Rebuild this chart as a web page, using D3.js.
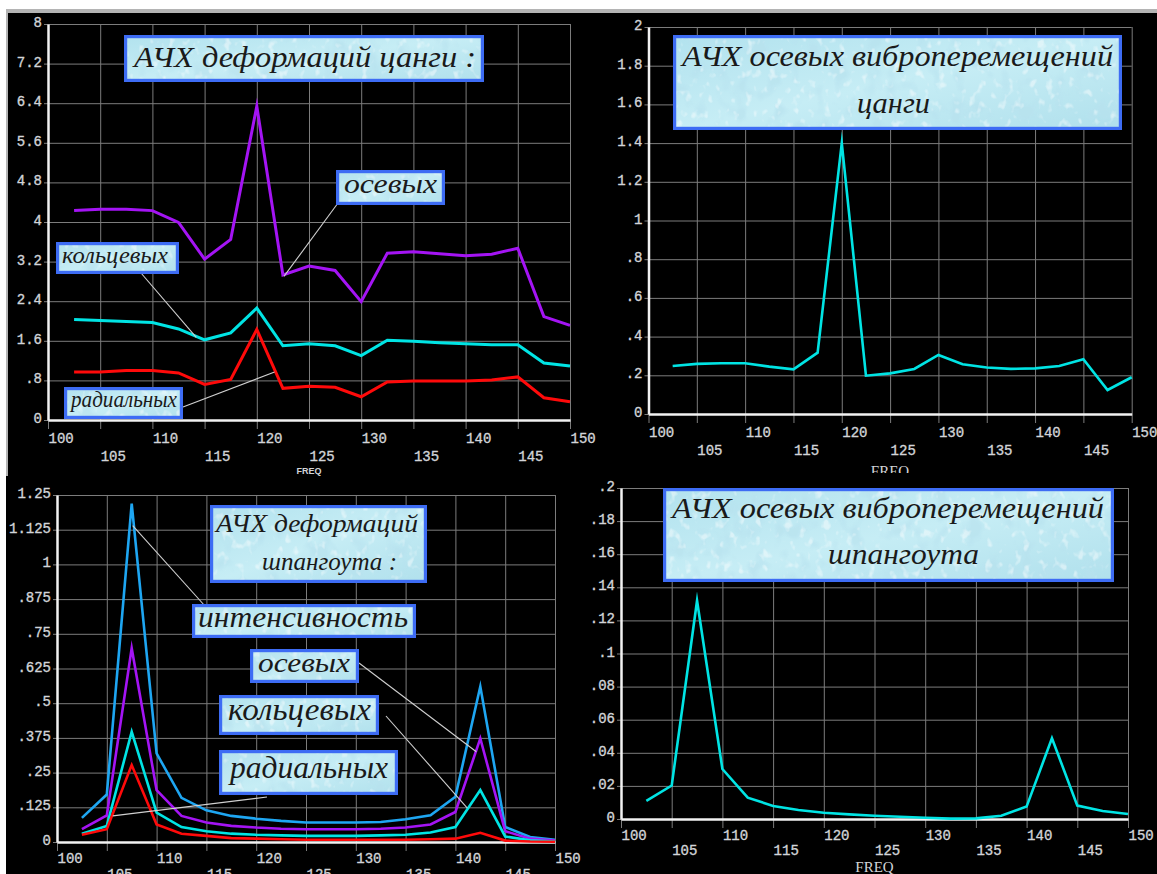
<!DOCTYPE html>
<html>
<head>
<meta charset="utf-8">
<script src="https://cdn.jsdelivr.net/npm/d3@7"></script>
<style>
html,body{margin:0;padding:0;background:#000;overflow:hidden}
svg{display:block}
.tk{font-family:"Liberation Mono",monospace;font-size:14px;stroke-width:0.35px}
</style>
</head>
<body>
<svg id="c" width="1157" height="874"></svg>
<script>
// ---------------- DATA ----------------
const freq = [102.5,105,107.5,110,112.5,115,117.5,120,122.5,125,127.5,130,132.5,135,137.5,140,142.5,145,147.5,150];
const xTicks = [100,105,110,115,120,125,130,135,140,145,150];

// Top-left: strain FRF of collet (цанга)
const tsAxial  = [4.23,4.26,4.26,4.23,3.99,3.25,3.65,6.34,2.93,3.11,3.02,2.39,3.37,3.40,3.36,3.32,3.35,3.47,2.09,1.91];
const tsHoop   = [2.03,2.01,1.99,1.97,1.84,1.62,1.76,2.26,1.50,1.54,1.50,1.30,1.61,1.59,1.56,1.54,1.52,1.52,1.15,1.09];
const tsRadial = [0.97,0.97,1.00,1.00,0.95,0.72,0.82,1.83,0.64,0.68,0.66,0.47,0.77,0.79,0.79,0.79,0.81,0.87,0.45,0.37];
const yTicksTL = [0,0.8,1.6,2.4,3.2,4,4.8,5.6,6.4,7.2,8];

// Top-right: axial vibration displacement of collet
const tsDisp = [0.248,0.259,0.262,0.262,0.245,0.231,0.317,1.40,0.198,0.210,0.233,0.305,0.257,0.240,0.233,0.236,0.248,0.283,0.124,0.190];
const yTicksTR = [0,0.2,0.4,0.6,0.8,1,1.2,1.4,1.6,1.8,2];

// Bottom-left: strain FRF of frame (шпангоут)
const shIntensity = [0.087,0.171,1.219,0.319,0.159,0.114,0.094,0.084,0.076,0.070,0.070,0.070,0.072,0.082,0.096,0.163,0.560,0.054,0.018,0.008];
const shAxial     = [0.046,0.096,0.698,0.187,0.094,0.070,0.058,0.052,0.048,0.046,0.046,0.046,0.048,0.052,0.063,0.108,0.373,0.039,0.012,0.005];
const shHoop      = [0.030,0.058,0.397,0.106,0.054,0.039,0.030,0.026,0.024,0.022,0.022,0.022,0.024,0.026,0.034,0.054,0.187,0.020,0.006,0.002];
const shRadial    = [0.026,0.046,0.277,0.063,0.030,0.022,0.014,0.012,0.010,0.008,0.008,0.008,0.008,0.008,0.010,0.012,0.033,0.005,0.002,0.001];
const yTicksBL = [0,0.125,0.25,0.375,0.5,0.625,0.75,0.875,1,1.125,1.25];

// Bottom-right: axial vibration displacement of frame
const shDisp = [0.0109,0.0202,0.1319,0.0302,0.0129,0.0079,0.0054,0.0038,0.0028,0.0020,0.0014,0.0008,0.0002,0.0004,0.0020,0.0075,0.0488,0.0081,0.0048,0.0030];
const yTicksBR = [0,0.02,0.04,0.06,0.08,0.1,0.12,0.14,0.16,0.18,0.2];

// ---------------- STYLE ----------------
const GRID = "#7c7c7c", AXIS = "#f2f2f2", LABEL = "#d2d4d8";
const PURPLE = "#a414f4", CYAN = "#00e4e4", RED = "#ff0a0a", BLUE = "#1ea6f2";

const svg = d3.select("#c");
const defs = svg.append("defs");

// page frame
svg.append("rect").attr("x",0).attr("y",0).attr("width",1157).attr("height",874).attr("fill","#000");
svg.append("rect").attr("x",0).attr("y",0).attr("width",1157).attr("height",9).attr("fill","#fff");
svg.append("rect").attr("x",0).attr("y",9).attr("width",1157).attr("height",4).attr("fill","#b4b4b4");
svg.append("rect").attr("x",0).attr("y",0).attr("width",6).attr("height",874).attr("fill","#fff");
svg.append("rect").attr("x",6).attr("y",9).attr("width",2).attr("height",467).attr("fill","#b4b4b4");

// box texture
const grad = defs.append("linearGradient").attr("id","boxGrad").attr("x1","0").attr("y1","0").attr("x2","1").attr("y2","1");
grad.append("stop").attr("offset","0%").attr("stop-color","#b2e2ee");
grad.append("stop").attr("offset","50%").attr("stop-color","#c6edf5");
grad.append("stop").attr("offset","100%").attr("stop-color","#b0e0ec");
function spotFilter(id, seed, freqStr, r, g, b, k, off){
  const f = defs.append("filter").attr("id",id).attr("x",0).attr("y",0).attr("width",1).attr("height",1);
  f.append("feTurbulence").attr("type","fractalNoise").attr("baseFrequency",freqStr).attr("numOctaves",2).attr("seed",seed).attr("result","t");
  f.append("feColorMatrix").attr("in","t").attr("type","matrix")
    .attr("values",`0 0 0 0 ${r}  0 0 0 0 ${g}  0 0 0 0 ${b}  ${k} 0 0 0 ${off}`).attr("result","w");
  f.append("feComposite").attr("in","w").attr("in2","SourceAlpha").attr("operator","in");
}
spotFilter("spotsD", 13, "0.06 0.05", 0.48, 0.76, 0.86, 5, -2.6);
spotFilter("spotsW", 7, "0.13 0.10", 1, 1, 1, 5, -2.9);

// ---------------- PANELS ----------------
const panels = [
  {id:"tl", clip:[8,13,588,463], x0:48, x1:570, yTop:24, yBot:420, yMax:8, yTicks:yTicksTL, r1:23, r2:41,
   series:[[tsAxial,PURPLE],[tsHoop,CYAN],[tsRadial,RED]], sw:3,
   freq:{x:309, y:474, size:9, weight:"bold", family:"'Liberation Sans',sans-serif"}},
  {id:"tr", clip:[596,13,561,460], x0:648.5, x1:1131.7, yTop:27, yBot:414, yMax:2, yTicks:yTicksTR, r1:23, r2:41,
   series:[[tsDisp,CYAN]], sw:2.6,
   freq:{x:890, y:476, size:15, weight:"normal", family:"'Liberation Serif',serif"}},
  {id:"bl", clip:[7,476,576,398], x0:57, x1:555, yTop:495, yBot:842, yMax:1.25, yTicks:yTicksBL, r1:21, r2:37,
   series:[[shIntensity,BLUE],[shAxial,PURPLE],[shHoop,CYAN],[shRadial,RED]], sw:2.6,
   freq:null},
  {id:"br", clip:[583,476,574,398], x0:621, x1:1128, yTop:488, yBot:819, yMax:0.2, yTicks:yTicksBR, r1:21, r2:36,
   series:[[shDisp,CYAN]], sw:2.6,
   freq:{x:874.5, y:872, size:15, weight:"normal", family:"'Liberation Serif',serif"}}
];

const fmtY = d => d === 0 ? "0" : String(d).replace(/^0\./, ".");
const scales = {};

panels.forEach(p => {
  defs.append("clipPath").attr("id","clip-"+p.id).append("rect")
    .attr("x",p.clip[0]).attr("y",p.clip[1]).attr("width",p.clip[2]).attr("height",p.clip[3]);
  const g = svg.append("g").attr("clip-path",`url(#clip-${p.id})`);
  const x = d3.scaleLinear().domain([100,150]).range([p.x0,p.x1]);
  const y = d3.scaleLinear().domain([0,p.yMax]).range([p.yBot,p.yTop]);
  scales[p.id] = {x,y};

  // vertical grid
  const xg = g.append("g").attr("transform",`translate(0,${p.yBot})`)
    .call(d3.axisBottom(x).tickValues(xTicks).tickSize(-(p.yBot-p.yTop)).tickSizeOuter(0).tickFormat(""));
  xg.select(".domain").remove();
  xg.selectAll(".tick line").attr("stroke",GRID).attr("stroke-width",1).attr("y1",9);

  // horizontal grid + y labels
  const yg = g.append("g").attr("transform",`translate(${p.x0},0)`)
    .call(d3.axisLeft(y).tickValues(p.yTicks).tickSize(-(p.x1-p.x0)).tickSizeOuter(0).tickFormat(fmtY));
  yg.select(".domain").remove();
  yg.selectAll(".tick line").attr("stroke",GRID).attr("stroke-width",1).attr("x1",-4);
  yg.selectAll(".tick text").attr("class","tk").attr("x",-6).attr("dy",null).attr("y",2.5)
    .attr("fill",LABEL).attr("stroke",LABEL).attr("text-anchor","end");

  // x labels (alternating rows)
  const xl = g.append("g").attr("transform",`translate(0,${p.yBot})`)
    .call(d3.axisBottom(x).tickValues(xTicks).tickSize(0).tickFormat(d3.format("d")));
  xl.select(".domain").remove();
  xl.selectAll(".tick text").attr("class","tk").attr("text-anchor","start").attr("dy",null)
    .attr("y", d => d % 10 === 0 ? p.r1 : p.r2).attr("fill",LABEL).attr("stroke",LABEL);

  // white axes
  const ax = g.append("g").attr("transform",`translate(0,${p.yBot})`)
    .call(d3.axisBottom(x).tickValues([]).tickSizeOuter(0));
  ax.select(".domain").attr("stroke",AXIS).attr("stroke-width",2.5);
  const ay = g.append("g").attr("transform",`translate(${p.x0},0)`)
    .call(d3.axisLeft(y).tickValues([]).tickSizeOuter(0));
  ay.select(".domain").attr("stroke",AXIS).attr("stroke-width",2.5);

  // data lines
  const line = d3.line().x((d,i)=>x(freq[i])).y(d=>y(d));
  p.series.forEach(([vals,col]) => {
    g.append("path").datum(vals).attr("d",line).attr("fill","none")
      .attr("stroke",col).attr("stroke-width",p.sw).attr("stroke-linejoin","miter").attr("stroke-miterlimit",10);
  });

  if (p.freq) {
    g.append("text").attr("x",p.freq.x).attr("y",p.freq.y).attr("text-anchor","middle")
      .attr("font-family",p.freq.family).attr("font-size",p.freq.size).attr("font-weight",p.freq.weight)
      .attr("fill",LABEL).text("FREQ");
  }
});

// ---------------- ANNOTATIONS ----------------
// leader lines: from label box to a point given in data units
const leaders = [
  {p:"tl", from:[338,203], to:[122.6,2.90]},
  {p:"tl", from:[141,273], to:[114.2,1.67]},
  {p:"tl", from:[183,407], to:[121.7,0.97]},
  {p:"bl", from:[205,606], to:[107.6,1.14]},
  {p:"bl", from:[359,663], to:[142.1,0.325]},
  {p:"bl", from:[386,716], to:[141.2,0.122]},
  {p:"bl", from:[267,797], to:[105.6,0.094]}
];
leaders.forEach(l => {
  const s = scales[l.p];
  svg.append("line").attr("x1",l.from[0]).attr("y1",l.from[1])
    .attr("x2",s.x(l.to[0])).attr("y2",s.y(l.to[1]))
    .attr("stroke","#d0d0d0").attr("stroke-width",1.1);
});

const boxes = [
  {r:[124,35,360,47], t:[["АЧХ  деформаций  цанги :",134,67,30,342]]},
  {r:[336,170,109,35], t:[["осевых",344,193,28,93]]},
  {r:[56,242,123,32], t:[["кольцевых",62,263,24,106]]},
  {r:[64,387,119,32], t:[["радиальных",71,407,24,106]]},
  {r:[673,35,449,95], t:[["АЧХ  осевых виброперемещений",682,66,30,431],["цанги",857,113,30,73]]},
  {r:[210,505,217,78], t:[["АЧХ  деформаций",216,532,26,202],["шпангоута :",262,570,26,135]]},
  {r:[192,604,224,34], t:[["интенсивность",198,627,30,210]]},
  {r:[250,649,109,34], t:[["осевых",258,672,28,92]]},
  {r:[219,695,160,40], t:[["кольцевых",228,720,32,143]]},
  {r:[219,750,179,45], t:[["радиальных",230,778,32,158]]},
  {r:[663,488,451,94], t:[["АЧХ  осевых виброперемещений",672,518,30,432],["шпангоута",828,564,30,151]]}
];
boxes.forEach(b => {
  const [bx,by,bw,bh] = b.r;
  const g = svg.append("g");
  g.append("rect").attr("x",bx).attr("y",by).attr("width",bw).attr("height",bh).attr("fill","url(#boxGrad)");
  g.append("rect").attr("x",bx).attr("y",by).attr("width",bw).attr("height",bh).attr("fill","#fff")
    .attr("opacity",0.6).attr("filter","url(#spotsD)");
  g.append("rect").attr("x",bx).attr("y",by).attr("width",bw).attr("height",bh).attr("fill","#fff")
    .attr("opacity",0.45).attr("filter","url(#spotsW)");
  g.append("rect").attr("x",bx+1.6).attr("y",by+1.6).attr("width",bw-3.2).attr("height",bh-3.2)
    .attr("fill","none").attr("stroke","#3d6cf4").attr("stroke-width",3.2);
  b.t.forEach(([txt,tx,ty,fs,len]) => {
    g.append("text").attr("x",tx).attr("y",ty)
      .attr("font-family","'Liberation Serif','DejaVu Serif',serif").attr("font-style","italic")
      .attr("font-size",fs).attr("fill","#1a1a1a")
      .attr("textLength",len).attr("lengthAdjust","spacingAndGlyphs")
      .text(txt);
  });
});
</script>
</body>
</html>
